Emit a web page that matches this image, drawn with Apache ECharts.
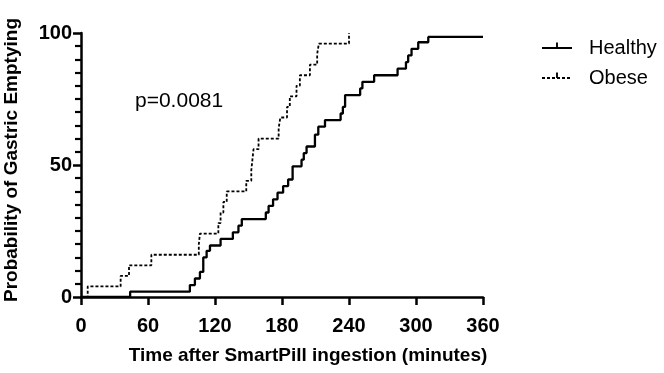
<!DOCTYPE html>
<html>
<head>
<meta charset="utf-8">
<script src="https://cdn.jsdelivr.net/npm/echarts@6/dist/echarts.min.js"></script>
<style>
html, body { margin: 0; padding: 0; background: #fff; }
#chart { width: 664px; height: 373px; }
</style>
</head>
<body>
<div id="chart"></div>
<script>
// Kaplan-Meier style step data: [minutes, % emptied]
const healthyTimes = [0, 44, 97.5, 102, 106.5, 109.5, 112.5, 115.5, 125, 136, 141, 144, 165.5, 168, 172, 176, 181, 185.5, 189.5, 197.5, 199.5, 202, 209.5, 212.5, 218.5, 232.5, 234.5, 236.5, 250, 252, 262.5, 283.5, 291, 293, 296, 302, 311, 360]
const healthyValues = [0, 2, 4.5, 7, 9.5, 15, 17.5, 19.5, 22, 24.5, 27, 29.5, 32, 34.5, 37, 39.5, 42, 44.5, 49.5, 52, 54.5, 57, 61.5, 64.5, 67, 69.5, 72, 76.5, 79, 81.5, 84, 86.5, 89, 91.5, 94, 96.5, 98.5, 98.5]

const obeseTimes = [0, 6, 35.5, 43, 63, 105.5, 106.5, 123, 125, 127.5, 130.5, 148, 152.5, 153.5, 154.5, 159, 177, 178.5, 184.5, 187, 193, 196, 205, 211.5, 213, 240]
const obeseValues = [0, 4, 8, 12, 16, 20, 24, 28, 32, 36, 40, 44, 48, 52, 56, 60, 64, 68, 72, 76, 80, 84, 88, 92, 96, 100]

const seriesNames = ['Healthy', 'Obese']
const pValueText = 'p=0.0081'

const pair = (xs, ys) => xs.map((x, i) => [x, ys[i]])
// small upright tick sitting on the legend line
const tickIcon = 'path://M5,0L7,0L7,6L5,6ZM0,12L12,12'
const font = 'Liberation Sans, Arial, sans-serif'

const chart = echarts.init(document.getElementById('chart'))
chart.setOption({
  animation: false,
  textStyle: { fontFamily: font, color: '#000' },
  grid: { left: 81, top: 33, width: 402, height: 264, containLabel: false, outerBoundsMode: 'none' },
  legend: {
    orient: 'vertical',
    left: 536,
    top: 33,
    itemWidth: 30,
    itemHeight: 14,
    itemGap: 10,
    data: seriesNames,
    textStyle: { fontSize: 20, color: '#000', padding: [0, 0, 0, 12] }
  },
  graphic: [{
    type: 'text',
    left: 135,
    top: 91,
    style: { text: pValueText, fontSize: 21, fill: '#000', fontFamily: font }
  }],
  xAxis: {
    type: 'value',
    min: 0,
    max: 360,
    interval: 60,
    name: 'Time after SmartPill ingestion (minutes)',
    nameLocation: 'middle',
    nameGap: 49,
    nameTextStyle: { fontSize: 19, fontWeight: 'bold', color: '#000', padding: [0, 0, 0, 52] },
    axisLine: { show: true, onZero: false, lineStyle: { color: '#000', width: 2.5 } },
    axisTick: { show: true, length: 8, lineStyle: { color: '#000', width: 2.5 } },
    axisLabel: { margin: 19, fontSize: 20, fontWeight: 'bold', color: '#000' },
    splitLine: { show: false }
  },
  yAxis: {
    type: 'value',
    min: 0,
    max: 100,
    interval: 50,
    name: 'Probability of Gastric Emptying',
    nameLocation: 'middle',
    nameGap: 60,
    nameTextStyle: { fontSize: 19, fontWeight: 'bold', color: '#000', padding: [0, 0, 0, 10] },
    axisLine: { show: true, lineStyle: { color: '#000', width: 2.5 } },
    axisTick: { show: true, length: 8, lineStyle: { color: '#000', width: 2.5 } },
    minorTick: { show: true, splitNumber: 10, length: 6, lineStyle: { color: '#000', width: 2.2 } },
    axisLabel: { margin: 9, fontSize: 20, fontWeight: 'bold', color: '#000' },
    splitLine: { show: false }
  },
  series: [{
    name: seriesNames[0],
    type: 'line',
    step: 'end',
    data: pair(healthyTimes, healthyValues),
    showSymbol: false,
    symbol: tickIcon,
    color: '#000',
    lineStyle: { color: '#000', width: 2.3 }
  }, {
    name: seriesNames[1],
    type: 'line',
    step: 'end',
    data: pair(obeseTimes, obeseValues),
    showSymbol: false,
    symbol: tickIcon,
    color: '#000',
    lineStyle: { color: '#000', width: 1.8, type: [3, 2] }
  }]
})
</script>
</body>
</html>
